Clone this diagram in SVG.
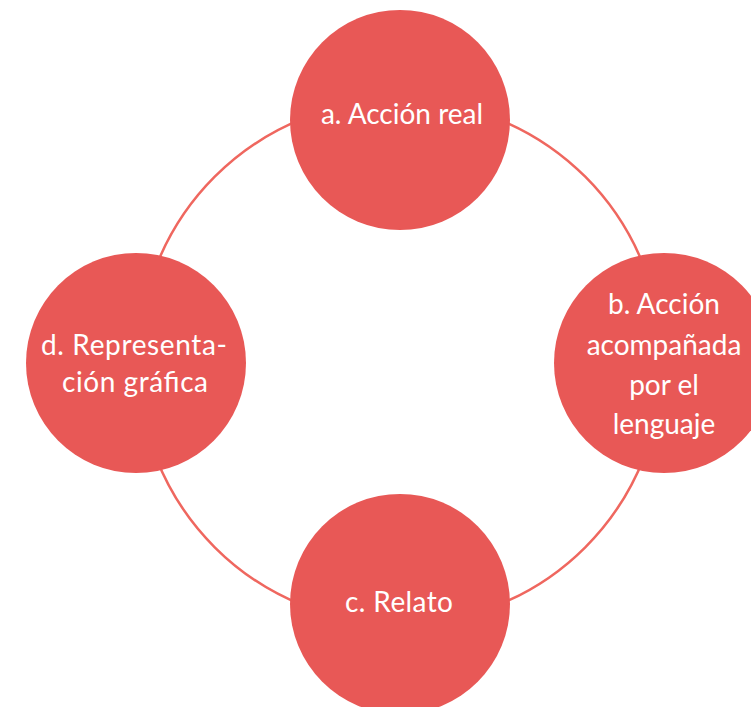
<svg xmlns="http://www.w3.org/2000/svg" width="751" height="707" viewBox="0 0 751 707">
  <style>
    .node { fill: #e85856; }
    .label { fill: #ffffff; font-family: Lato, "Open Sans", "Liberation Sans", sans-serif; font-size: 28px; text-anchor: middle; }
    .ring { fill: none; stroke: #ef675f; stroke-width: 2.5; }
  </style>
  <rect width="751" height="707" fill="#ffffff"/>
  <g id="connectors">
    <circle class="ring" cx="400" cy="362" r="262"/>
  </g>
  <g id="node-a">
    <circle class="node" cx="400" cy="120" r="110"/>
    <text class="label" x="402" y="124">a. Acción real</text>
  </g>
  <g id="node-b">
    <circle class="node" cx="664" cy="363" r="110"/>
    <text class="label" x="664" y="314">b. Acción</text>
    <text class="label" x="664" y="355">acompañada</text>
    <text class="label" x="664" y="395">por el</text>
    <text class="label" x="664" y="434">lenguaje</text>
  </g>
  <g id="node-c">
    <circle class="node" cx="400" cy="604" r="110"/>
    <text class="label" x="399" y="612" textLength="108">c. Relato</text>
  </g>
  <g id="node-d">
    <circle class="node" cx="136" cy="363" r="110"/>
    <text class="label" x="134" y="355" textLength="186">d. Representa-</text>
    <text class="label" x="135" y="392" textLength="146">ción gráfica</text>
  </g>
</svg>
